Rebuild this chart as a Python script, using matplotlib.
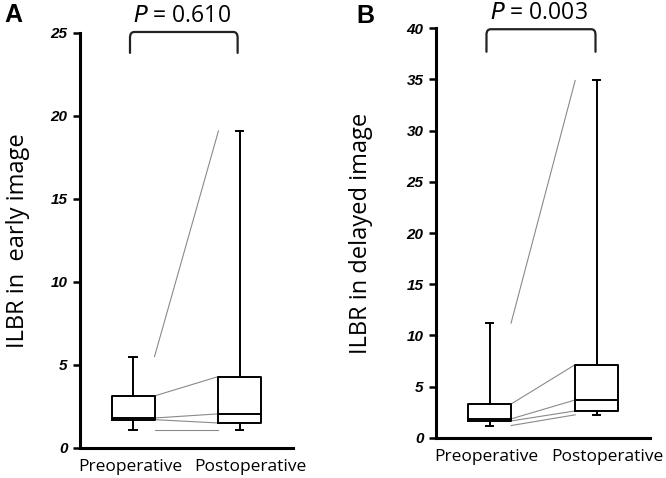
import matplotlib
matplotlib.use('Agg')
import matplotlib.pyplot as plt
from matplotlib.path import Path
from matplotlib.patches import PathPatch

groups = ['Preoperative', 'Postoperative']

# five-number summaries: whisker low, Q1, median, Q3, whisker high
early_pre = [1.05, 1.7, 1.8, 3.13, 5.5]
early_post = [1.05, 1.5, 2.05, 4.3, 19.1]
delayed_pre = [1.2, 1.65, 1.85, 3.3, 11.2]
delayed_post = [2.25, 2.63, 3.7, 7.15, 34.9]

p_early = 'P = 0.610'
p_delayed = 'P = 0.003'

LABEL_FONT = ['Open Sans', 'DejaVu Sans']


def make_stats(vals, label):
    lo, q1, med, q3, hi = vals
    return dict(whislo=lo, q1=q1, med=med, q3=q3, whishi=hi, label=label, fliers=[])


def bracket(ax, x0, x1, ytop, ybot, rx, ry):
    verts = [(x0, ybot), (x0, ytop - ry), (x0, ytop), (x0 + rx, ytop),
             (x1 - rx, ytop), (x1, ytop), (x1, ytop - ry), (x1, ybot)]
    codes = [Path.MOVETO, Path.LINETO, Path.CURVE3, Path.CURVE3,
             Path.LINETO, Path.CURVE3, Path.CURVE3, Path.LINETO]
    ax.add_patch(PathPatch(Path(verts, codes), fill=False, lw=1.6,
                           edgecolor='#222222', clip_on=False, capstyle='round'))


def panel(ax, pre, post, ymax, ystep, ylabel, ptext, br, lpad):
    stats = [make_stats(pre, groups[0]), make_stats(post, groups[1])]
    box_kw = dict(color='black', linewidth=1.4)
    ax.bxp(stats, positions=[1, 2], widths=0.4, showfliers=False,
           boxprops=box_kw, whiskerprops=box_kw, capprops=box_kw,
           medianprops=box_kw, capwidths=0.07)
    # thin grey lines joining matching statistics
    for a, b in zip(pre, post):
        ax.plot([1.2, 1.8], [a, b], color='#8a8a8a', lw=0.8, zorder=1)

    ax.set_xlim(0.5, 2.5)
    ax.set_ylim(0, ymax)
    ax.set_yticks(range(0, ymax + 1, ystep))
    ax.set_xticks([0.97, 2.1])
    ax.set_xticklabels(groups, fontsize=12.5, family=LABEL_FONT)
    ax.tick_params(axis='x', length=0, pad=8)
    ax.tick_params(axis='y', length=5, width=1.8, direction='out', pad=4)
    for t in ax.get_yticklabels():
        t.set_fontweight('bold')
        t.set_fontstyle('italic')
        t.set_fontsize(11)
        t.set_family('Liberation Sans')
    for s in ['top', 'right']:
        ax.spines[s].set_visible(False)
    for s in ['left', 'bottom']:
        ax.spines[s].set_linewidth(2.2)
    ax.set_ylabel(ylabel, fontsize=17, family=LABEL_FONT, labelpad=lpad)

    x0, x1, ytop, ybot, rx, ry = br
    bracket(ax, x0, x1, ytop, ybot, rx, ry)
    ax.annotate(ptext.replace('P', '$\\it{P}$'), xy=((x0 + x1) / 2 - 0.02, ytop),
                xytext=(0, 3), textcoords='offset points',
                ha='center', va='bottom', fontsize=16.5, family=LABEL_FONT,
                annotation_clip=False)
    return ax


fig = plt.figure(figsize=(6.66, 4.78), dpi=100)
ax1 = fig.add_axes([0.120, 0.063, 0.320, 0.868])
ax2 = fig.add_axes([0.655, 0.084, 0.321, 0.857])

panel(ax1, early_pre, early_post, 25, 5, 'ILBR in  early image', p_early,
      (0.97, 1.98, 25.06, 23.8, 0.04, 0.35), 15)
panel(ax2, delayed_pre, delayed_post, 40, 5, 'ILBR in delayed image', p_delayed,
      (0.97, 1.99, 39.9, 37.7, 0.04, 0.55), 24)

fig.text(0.006, 0.955, 'A', fontsize=18, fontweight='bold', family='Liberation Sans')
fig.text(0.535, 0.952, 'B', fontsize=18, fontweight='bold', family='Liberation Sans')

fig.savefig('out.png', dpi=100)
